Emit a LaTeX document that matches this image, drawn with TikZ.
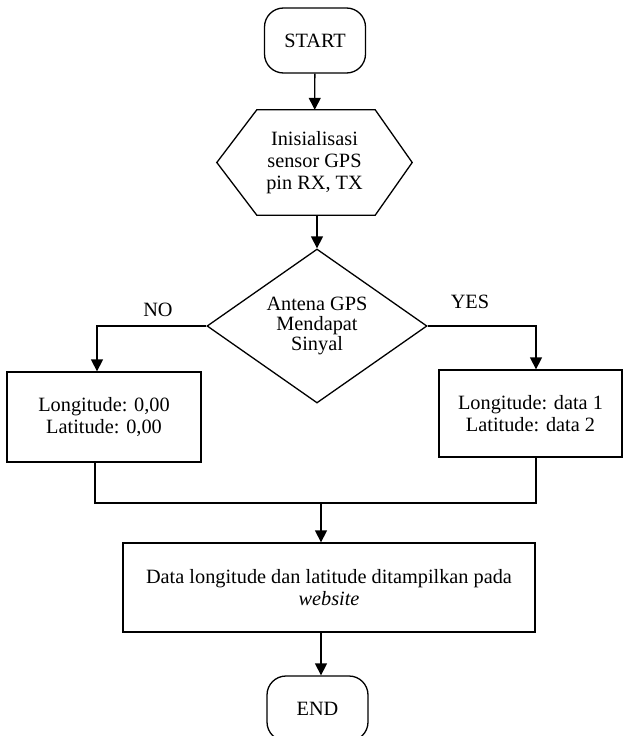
\documentclass[tikz,border=0pt]{standalone}
\usepackage{fontspec}
\setmainfont{Liberation Serif}
\usetikzlibrary{shapes.geometric,arrows.meta}

\begin{document}
\begin{tikzpicture}[x=1pt,y=-1pt,
  every node/.style={font=\fontsize{20.3}{22}\selectfont, align=center, inner sep=0pt},
  line/.style={line width=1.3pt},
  arr/.style={line, -{Triangle[length=12pt,width=12pt]}},
  term/.style={draw, line, rounded corners=19pt, minimum width=101pt, minimum height=65pt},
  proc/.style={draw, line, rectangle},
  hexbox/.style={minimum width=195pt, minimum height=105pt},
  decision/.style={draw, line, diamond, minimum width=220pt, minimum height=154pt, aspect=1.43,
                   font=\fontsize{20.3}{20}\selectfont},
]
\useasboundingbox (0,0) rectangle (624,736);
\clip (0,0) rectangle (624,736);

% terminals, process steps and decision
\node[term] (start) at (315,40.5) {START};
\node[hexbox] (hex) at (314.5,162.5) {Inisialisasi\\sensor GPS\\pin RX, TX};
\draw[line] (hex.west) -- ([xshift=40pt]hex.north west) -- ([xshift=-37pt]hex.north east)
  -- (hex.east) -- ([xshift=-37pt]hex.south east) -- ([xshift=40pt]hex.south west) -- cycle;
\node[decision] (dec) at (317,326) {Antena GPS\\Mendapat\\Sinyal};
\node[proc, minimum width=194pt, minimum height=90pt] (nobox) at (104,417)
  {Longitude: 0,00\\Latitude: 0,00};
\node[proc, minimum width=183pt, minimum height=87pt] (yesbox) at (530.5,413.5)
  {Longitude: data 1\\Latitude: data 2};
\node[proc, minimum width=412pt, minimum height=89pt] (out) at (329,587.5)
  {Data longitude dan latitude ditampilkan pada\\\textit{website}};
\node[term] (end) at (317.5,708.5) {END};

% branch labels
\node (nolbl) at (158,310) {NO};
\node (yeslbl) at (470,302) {YES};

% connectors
\coordinate (merge) at (321,503);
\draw[arr] (start) -- (hex);
\draw[arr] (hex.south -| dec.north) -- (dec.north);
\draw[arr] (dec.west) -| ([xshift=-7pt]nobox.north);
\draw[arr] (dec.east) -| ([xshift=5.5pt]yesbox.north);
\draw[line] ([xshift=-9pt]nobox.south) |- (merge);
\draw[line] ([xshift=5.5pt]yesbox.south) |- (merge);
\draw[arr] (merge) -- (merge |- out.north);
\draw[arr] (out.south -| merge) -- (end.north -| merge);
\end{tikzpicture}
\end{document}
